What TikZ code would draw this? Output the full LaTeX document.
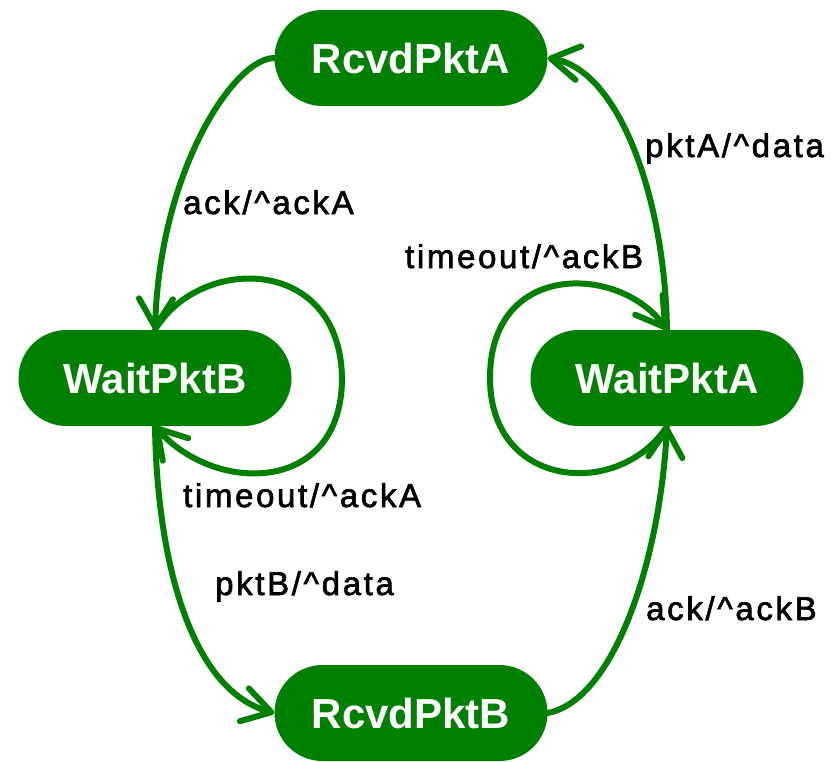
\documentclass[tikz,border=0pt]{standalone}
\usepackage{fontspec}
\setmainfont{Liberation Sans}
\newfontfamily\lblfont{Liberation Sans}[LetterSpace=8,FakeBold=2]
\usetikzlibrary{arrows.meta}
\definecolor{sgreen}{RGB}{0,128,0}
\begin{document}
\begin{tikzpicture}[x=1pt,y=-1pt,
  state/.style={fill=sgreen,draw=none,rounded corners=48pt,minimum width=273pt,minimum height=96pt,
    inner sep=0pt,text=white,font=\fontsize{42}{48}\selectfont\bfseries},
  trans/.style={draw=sgreen,line width=6pt,line cap=round,line join=round,
    -{Straight Barb[length=28pt,width=34pt,line cap=round,line join=round]}},
  lbl/.style={anchor=base west,inner sep=0pt,text=black,font=\fontsize{33}{38}\lblfont}]
\useasboundingbox (0,0) rectangle (836,761);
\node[state] (RA) at (411,58) {RcvdPktA};
\node[state] (WB) at (155,378) {WaitPktB};
\node[state] (WA) at (667,378) {WaitPktA};
\node[state] (RB) at (411,713) {RcvdPktB};
\coordinate (lb) at (342,378);
\coordinate (la) at (490,378);
% RcvdPktA -> WaitPktB
\draw[trans] (RA.west) .. controls +(-40,0) and +(5,-160) .. (WB.north);
% WaitPktB self loop
\draw[trans] (WB.north) .. controls +(45,-75) and +(-2,-123) .. (lb)
  .. controls +(0,117) and +(60,68) .. (WB.south);
% WaitPktB -> RcvdPktB
\draw[trans] (WB.south) .. controls +(2,133) and +(-84,-23) .. (RB.west);
% RcvdPktB -> WaitPktA
\draw[trans] (RB.east) .. controls +(67,-13) and +(-7,133) .. (WA.south);
% WaitPktA self loop
\draw[trans] (WA.south) .. controls +(-47,73) and +(0,112) .. (la)
  .. controls +(0,-118) and +(-47,-65) .. (WA.north);
% WaitPktA -> RcvdPktA
\draw[trans] (WA.north) .. controls +(-2,-130) and +(72,12) .. (RA.east);
\node[lbl] (l1) at (183,214) {ack/\^{}ackA};
\node[lbl] (l2) at (183,507) {timeout/\^{}ackA};
\node[lbl] (l3) at (215,595) {pktB/\^{}data};
\node[lbl] (l4) at (405,268) {timeout/\^{}ackB};
\node[lbl] (l5) at (645,157) {pktA/\^{}data};
\node[lbl] (l6) at (646,620) {ack/\^{}ackB};
\end{tikzpicture}
\end{document}
